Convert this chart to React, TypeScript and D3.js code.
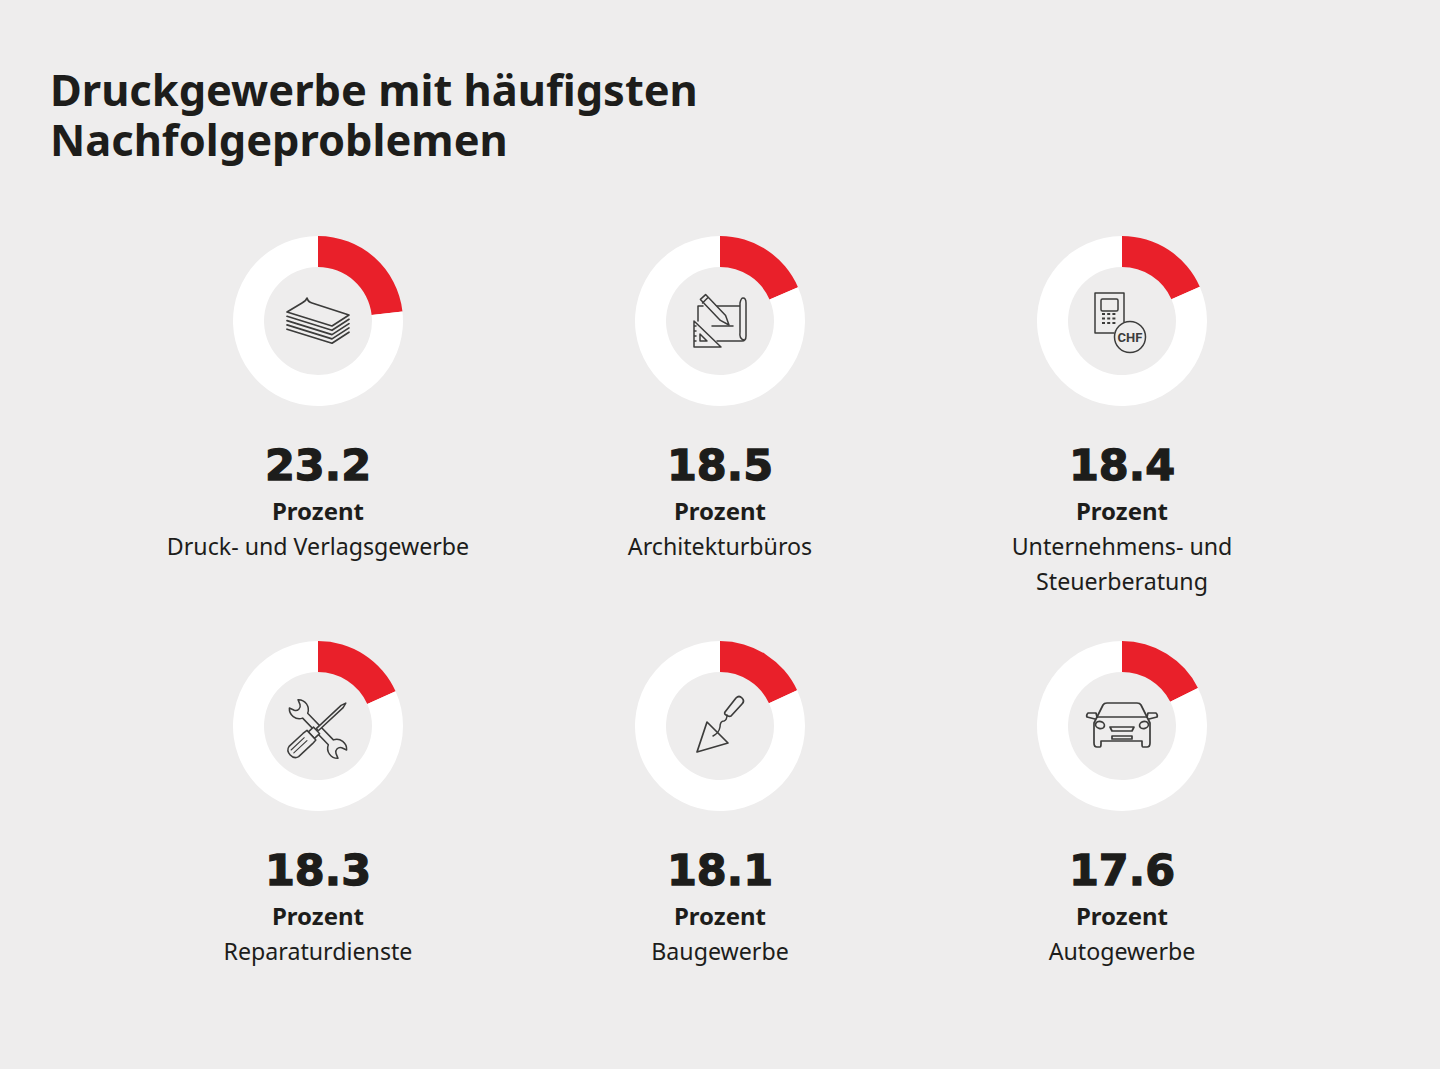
import React from "react";
import * as d3 from "d3";

const titleLines = ["Druckgewerbe mit häufigsten", "Nachfolgeproblemen"];
const values = [23.2, 18.5, 18.4, 18.3, 18.1, 17.6];
const categories: string[][] = [
  ["Druck- und Verlagsgewerbe"],
  ["Architekturbüros"],
  ["Unternehmens- und", "Steuerberatung"],
  ["Reparaturdienste"],
  ["Baugewerbe"],
  ["Autogewerbe"],
];
const unitLabel = "Prozent";
const iconNames = ["paper", "plan", "chf", "tools", "trowel", "car"];

const BG = "#eeeded";
const RED = "#e9202a";
const INK = "#1d1d1b";
const ICON = "#3c3c3b";
const FONT = "'Noto Sans', sans-serif";

const x = d3.scalePoint<number>().domain([0, 1, 2]).range([318, 1122]);
const y = d3.scalePoint<number>().domain([0, 1]).range([321, 726]);
const arc = d3.arc<d3.PieArcDatum<number>>().innerRadius(54).outerRadius(85);
const pie = d3.pie<number>().sort(null);

function Icon({ name }: { name: string }) {
  const p = { fill: "none", stroke: ICON, strokeWidth: 1.5, strokeLinejoin: "round", strokeLinecap: "round" } as const;
  if (name === "paper") {
    return (
      <g {...p}>
        <path d="M-31,-9 L-16,-18 Q-12,-20 -11,-23 Q-10,-19 -6,-18 L31,-6 L14,5 Z" strokeWidth={1.7} />
        {[1, 2, 3, 4].map((k) => (
          <path key={k} d={`M-31,${-9 + k * 4.3} L14,${5 + k * 4.3} L31,${-6 + k * 4.3}`} strokeWidth={1.7} />
        ))}
      </g>
    );
  }
  if (name === "plan") {
    return (
      <g {...p}>
        <path d="M-22,0 V-15 H-17 M-9,-15 H20 M20,11 V-18 Q21,-23 23,-23 Q26,-23 26,-18 V15 Q26,20 22,20 H-3 M20,11 Q19,18 24,19" />
        <path d="M-8,5 H13" />
        <path d="M-19.6,-21.6 L-14.4,-26.4 L5.6,-5.4 L9,4 L0.4,-0.6 Z M-17.5,-18 L-12.5,-23" fill={BG} />
        <path d="M-26,0 V26 H1 Z M-20,13 V20 H-13 Z M-26,5 H-24 M-26,10 H-24 M-26,15 H-24 M-26,20 H-24" fill={BG} />
      </g>
    );
  }
  if (name === "chf") {
    return (
      <g {...p}>
        <path d="M2,1 V-28 H-27 V12 H-8" />
        <rect x={-21} y={-22} width={17} height={12} rx={1.5} />
        {[-7, -2.5, 2].map((v) => (
          <path key={v} d={`M-20,${v} H-5`} strokeDasharray="3 2.2" strokeLinecap="butt" strokeWidth={1.8} />
        ))}
        <circle cx={8} cy={16} r={15.5} fill={BG} />
        <text x={8} y={20.5} textAnchor="middle" fontFamily="'Liberation Sans Narrow','Roboto',sans-serif" fontWeight={700} fontSize={13} fill={ICON} stroke="none">CHF</text>
      </g>
    );
  }
  if (name === "tools") {
    return (
      <g {...p}>
        <path transform="translate(0,3) rotate(46)" d="M-18.5,-3.5 A10,10 0 0 0 -35,-6 L-30,-4 A4.5,4.5 0 0 1 -30,4 L-35,6 A10,10 0 0 0 -18.5,3.5 L18.5,3.5 A10,10 0 0 0 35,6 L30,4 A4.5,4.5 0 0 1 30,-4 L35,-6 A10,10 0 0 0 18.5,-3.5 Z" />
        <g transform="translate(0,3) rotate(-43)" fill={BG}>
          <path d="M-1,-1.5 L33,-1.5 L38,0 L33,1.5 L-1,1.5 Z" />
          <path d="M-9,-4.5 H-2 V4.5 H-9 Z" />
          <path d="M-9,-6.5 L-14,-7 L-33,-7 Q-38,-6 -38,0 Q-38,6 -33,7 L-14,7 L-9,6.5 Z" />
          <path d="M-34,-3 H-16 M-34,1 H-16" strokeWidth={1.1} />
        </g>
      </g>
    );
  }
  if (name === "trowel") {
    return (
      <g {...p}>
        <path d="M-13,-4 L8,17 L-23,26 Z" strokeWidth={1.7} />
        <path d="M-7,10 Q-1,7 0,1 Q0,-5 4,-5 Q7,-6 7,-11" strokeWidth={1.5} />
        <path d="M5,-14 L16,-28 Q19,-31 22,-28 Q25,-25 22,-22 L11,-10 Q9,-9 6,-11 Q4,-12 5,-14 Z" strokeWidth={1.7} />
      </g>
    );
  }
  return (
    <g {...p} strokeWidth={1.7}>
      <path d="M-25,-9 L-19,-21 Q-18,-23 -15,-23 H15 Q18,-23 19,-21 L25,-9" />
      <path d="M-25,-9 H25 M-25,-9 L-28,-3 V17 Q-28,21 -25,21 H-22 Q-21,21 -21,18 V15 H20 V18 Q20,21 21,21 H25 Q28,21 28,17 V-3 L25,-9" />
      <path d="M-25,-9 L-26,-13 H-34 Q-36,-11 -35,-9 L-27,-7 M25,-9 L26,-13 H34 Q36,-11 35,-9 L27,-7" />
      <ellipse cx={-22} cy={-1} rx={4.5} ry={3.5} transform="rotate(15 -22 -1)" />
      <ellipse cx={22} cy={-1} rx={4.5} ry={3.5} transform="rotate(-15 22 -1)" />
      <path d="M-12,1 H12 L10,5 H-10 Z M-10,10 H10 V13 H-10 Z" />
    </g>
  );
}

export default function App() {
  return (
    <svg width={1440} height={1069} style={{ position: "absolute", left: 0, top: 0, display: "block" }} fontFamily={FONT}>
      <rect width={1440} height={1069} fill={BG} />
      {titleLines.map((t, i) => (
        <text key={t} x={50} y={106 + i * 50} fontSize={43.4} fontWeight={700} fill={INK}>{t}</text>
      ))}
      {values.map((v, i) => {
        const cx = x(i % 3)!;
        const cy = y(Math.floor(i / 3))!;
        const slices = pie.value((d) => d)([v, 100 - v]);
        return (
          <g key={i}>
            <g transform={`translate(${cx},${cy})`}>
              {slices.map((s, j) => (
                <path key={j} d={arc(s) || ""} fill={j === 0 ? RED : "#ffffff"} />
              ))}
              <Icon name={iconNames[i]} />
            </g>
            <text x={cx} y={cy + 159} textAnchor="middle" fontSize={43} fontWeight={700} fontFamily="'DejaVu Sans', sans-serif" fill={INK} stroke={INK} strokeWidth={1.3}>{v.toFixed(1)}</text>
            <text x={cx} y={cy + 199} textAnchor="middle" fontSize={24} fontWeight={700} fill={INK}>{unitLabel}</text>
            {categories[i].map((c, k) => (
              <text key={c} x={cx} y={cy + 234 + k * 35} textAnchor="middle" fontSize={23.2} fill={INK}>{c}</text>
            ))}
          </g>
        );
      })}
    </svg>
  );
}
